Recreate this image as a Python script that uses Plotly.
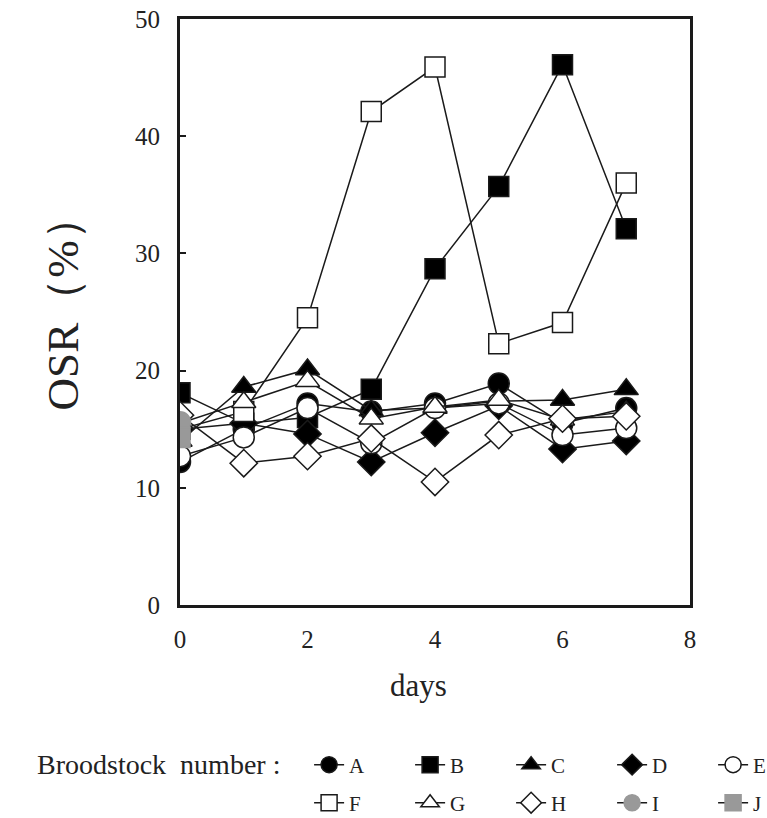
import plotly.graph_objects as go

days = [0, 1, 2, 3, 4, 5, 6, 7]
A = [12.2, 15.0, 17.2, 16.5, 17.2, 18.9, 15.5, 16.8]
B = [18.1, 15.5, 16.0, 18.4, 28.7, 35.7, 46.1, 32.1]
C = [14.0, 18.6, 20.1, 16.6, 16.8, 17.4, 17.5, 18.4]
D = [15.0, 15.5, 14.6, 12.2, 14.7, 17.0, 13.3, 14.0]
E = [12.7, 14.3, 16.8, 13.8, 16.8, 17.2, 14.5, 15.1]
F = [15.0, 16.5, 24.5, 42.1, 45.9, 22.3, 24.1, 36.0]
G = [15.5, 17.3, 19.1, 15.9, 16.9, 17.5, 15.8, 16.5]
H = [16.2, 12.1, 12.7, 14.2, 10.5, 14.5, 15.9, 16.1]
I = [15.6]
J = [14.3]

series = [
    ("A", A, "circle", "black", "legend"),
    ("B", B, "square", "black", "legend"),
    ("C", C, "triangle-up", "black", "legend"),
    ("D", D, "diamond", "black", "legend"),
    ("E", E, "circle", "white", "legend"),
    ("F", F, "square", "white", "legend2"),
    ("G", G, "triangle-up", "white", "legend2"),
    ("H", H, "diamond", "white", "legend2"),
    ("I", I, "circle", "#999999", "legend2"),
    ("J", J, "square", "#999999", "legend2"),
]

font = "Liberation Serif, Times New Roman, serif"
ink = "#1a1a1a"
sizes = {"circle": 21, "square": 20, "triangle-up": 21, "diamond": 21}

fig = go.Figure()
for name, vals, sym, col, leg in series:
    gray = col == "#999999"
    fig.add_trace(go.Scatter(
        x=days[:len(vals)], y=vals, name=name, mode="lines+markers", legend=leg,
        line=dict(color=ink, width=1.5),
        marker=dict(symbol=sym, size=sizes[sym], color=col,
                    line=dict(color=col if gray else ink, width=1.5)),
    ))

leg_common = dict(orientation="h", xanchor="left", yanchor="middle",
                  xref="container",
                  entrywidth=56, entrywidthmode="pixels", itemwidth=30,
                  font=dict(family=font, size=21, color="#222"),
                  bgcolor="rgba(0,0,0,0)", tracegroupgap=0)

fig.update_layout(
    width=767, height=818,
    margin=dict(l=180, r=77, t=19, b=213, autoexpand=False),
    plot_bgcolor="white", paper_bgcolor="white",
    font=dict(family=font, size=20, color="#222"),
    showlegend=True,
    legend=dict(x=0.403, y=-0.273, **leg_common),
    legend2=dict(x=0.403, y=-0.338, **leg_common),
    xaxis=dict(range=[0, 8], dtick=2, showgrid=False, zeroline=False,
               showline=True, linecolor=ink, linewidth=3, mirror=True,
               ticks="", tickfont=dict(family=font, size=25, color="#222"),
               ticklabelstandoff=10),
    yaxis=dict(range=[0, 50], dtick=10, showgrid=False, zeroline=False,
               showline=True, linecolor=ink, linewidth=3, mirror=True,
               ticks="inside", ticklen=6, tickwidth=2, tickcolor=ink,
               tickfont=dict(family=font, size=25, color="#222"), ticklabelstandoff=12),
    annotations=[
        dict(text="OSR（%）", xref="paper", yref="paper", x=-0.282, y=0.515,
             textangle=-90, showarrow=False, font=dict(family=font, size=45, color="#222")),
        dict(text="days", xref="paper", yref="paper", x=0.467, y=-0.138,
             xanchor="center", yanchor="middle", showarrow=False,
             font=dict(family=font, size=31, color="#222")),
        dict(text="Broodstock  number :", xref="paper", yref="paper", x=-0.285, y=-0.273,
             xanchor="left", yanchor="middle", showarrow=False,
             font=dict(family=font, size=28, color="#222")),
    ],
)

fig.write_html("out.html")
